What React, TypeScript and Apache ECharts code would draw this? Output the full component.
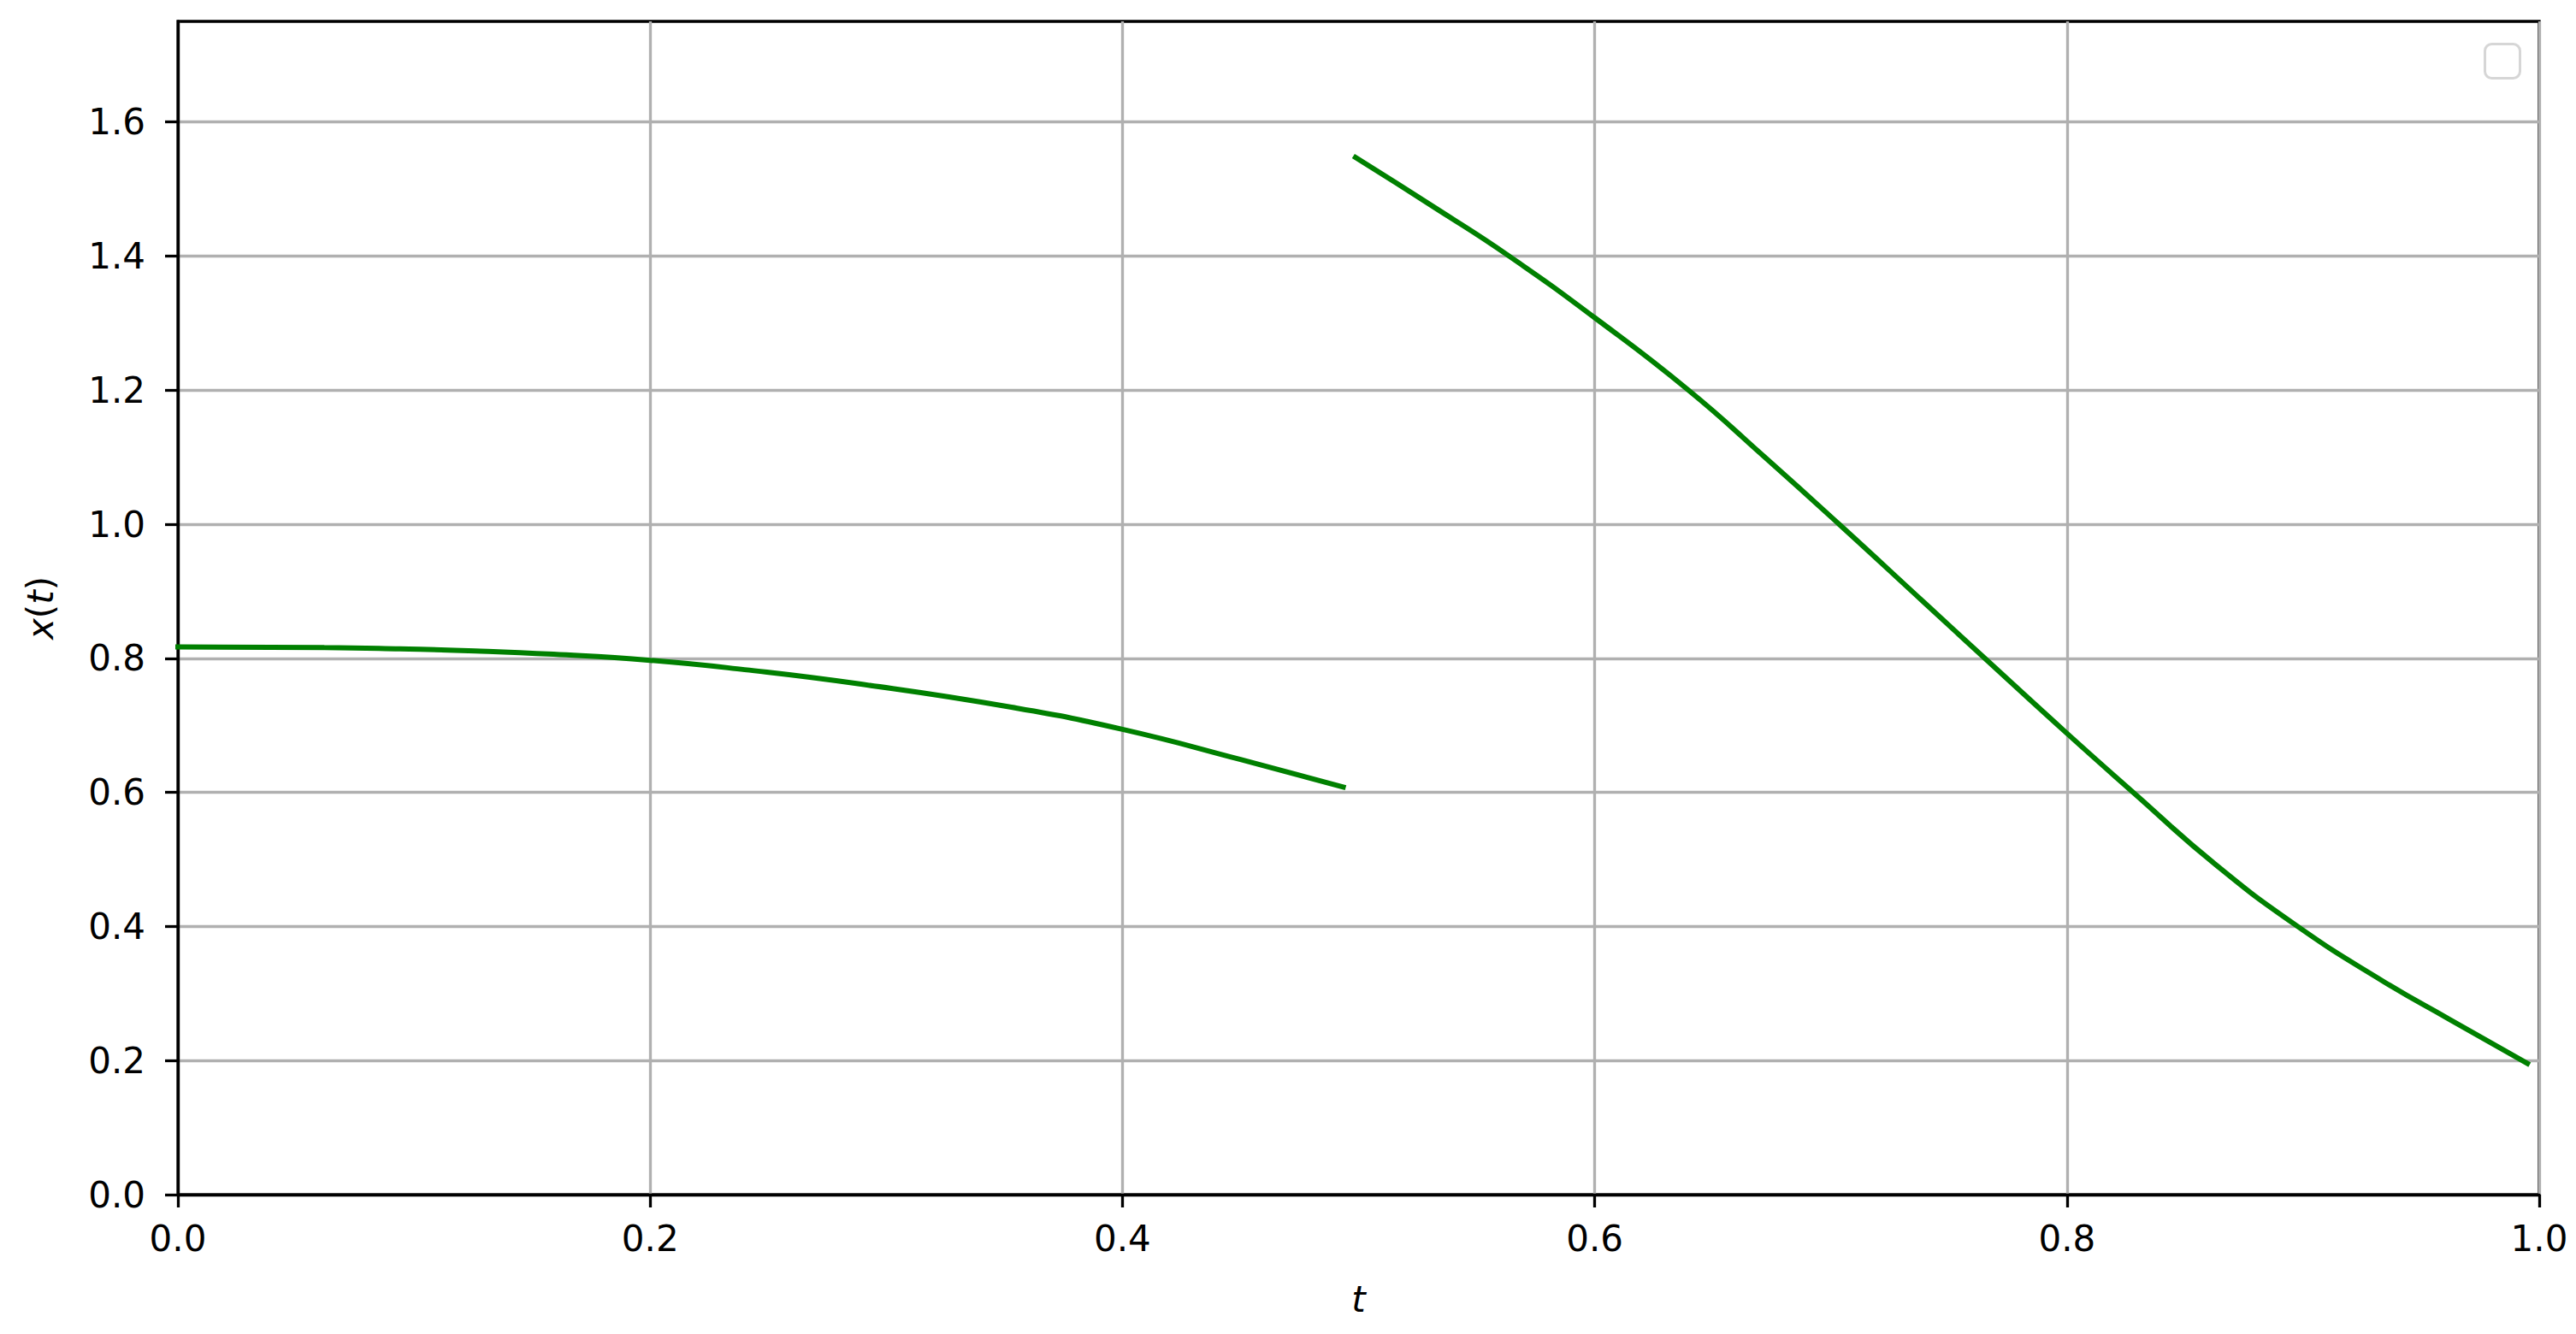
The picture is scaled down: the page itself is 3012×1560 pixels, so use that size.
import React, { useEffect, useRef } from "react";
import * as echarts from "echarts";

// Tick values
const xTicks = [0, 0.2, 0.4, 0.6, 0.8, 1.0];
const yTicks = [0, 0.2, 0.4, 0.6, 0.8, 1.0, 1.2, 1.4, 1.6];

// First segment of x(t)
const t1 = [0, 0.062, 0.094, 0.126, 0.159, 0.2, 0.24, 0.288, 0.353, 0.4, 0.45, 0.4935];
const x1 = [0.817, 0.816, 0.814, 0.811, 0.806, 0.797, 0.783, 0.762, 0.727, 0.694, 0.649, 0.608];

// Second segment of x(t)
const t2 = [0.4987, 0.5346, 0.5637, 0.6, 0.6397, 0.672, 0.7035, 0.7396, 0.7649, 0.8, 0.8287, 0.862, 0.8977, 0.934, 0.9617, 0.995];
const x2 = [1.547, 1.467, 1.4, 1.308, 1.2, 1.1, 1.0, 0.883, 0.801, 0.688, 0.598, 0.495, 0.4, 0.318, 0.262, 0.1955];

const FONT = "DejaVu Sans";

export default function App() {
  const ref = useRef<HTMLDivElement>(null);

  useEffect(() => {
    if (!ref.current) return;
    const chart = echarts.init(ref.current, undefined, { renderer: "svg" });
    const seg1 = t1.map((t, i) => [t, x1[i]]);
    const seg2 = t2.map((t, i) => [t, x2[i]]);
    const lineStyle = { color: "#008000", width: 6, cap: "square" as const };

    chart.setOption({
      animation: false,
      backgroundColor: "#ffffff",
      textStyle: { fontFamily: FONT },
      grid: {
        left: 208,
        top: 25,
        width: 2761,
        height: 1372,
        show: true,
        borderColor: "#000000",
        borderWidth: 3.3,
        backgroundColor: "transparent",
        containLabel: false,
        outerBoundsMode: "none",
      },
      xAxis: {
        type: "value",
        min: 0,
        max: 1,
        interval: 0.2,
        name: "t",
        nameLocation: "middle",
        nameGap: 101,
        nameTextStyle: { fontFamily: FONT, fontSize: 42, fontStyle: "italic", color: "#000" },
        axisLine: { show: true, onZero: false, lineStyle: { color: "#000", width: 3.3 } },
        axisTick: { show: true, length: 15, lineStyle: { color: "#000", width: 3.3 }, customValues: xTicks },
        axisLabel: {
          show: true,
          margin: 30,
          fontFamily: FONT,
          fontSize: 42,
          color: "#000",
          customValues: xTicks,
          formatter: (v: number) => v.toFixed(1),
        },
        splitLine: { show: true, lineStyle: { color: "#b0b0b0", width: 3.3 } },
      },
      yAxis: {
        type: "value",
        min: 0,
        max: 1.75,
        interval: 0.2,
        name: "{i|x}{n|(}{i|t}{n|)}",
        nameLocation: "middle",
        nameGap: 140,
        nameRotate: 90,
        nameTextStyle: {
          fontFamily: FONT,
          fontSize: 42,
          color: "#000",
          rich: {
            i: { fontFamily: FONT, fontSize: 42, fontStyle: "italic", color: "#000" },
            n: { fontFamily: FONT, fontSize: 42, color: "#000" },
          },
        },
        axisLine: { show: true, onZero: false, lineStyle: { color: "#000", width: 3.3 } },
        axisTick: { show: true, length: 15, lineStyle: { color: "#000", width: 3.3 }, customValues: yTicks },
        axisLabel: {
          show: true,
          margin: 38,
          fontFamily: FONT,
          fontSize: 42,
          color: "#000",
          customValues: yTicks,
          formatter: (v: number) => v.toFixed(1),
        },
        splitLine: { show: true, lineStyle: { color: "#b0b0b0", width: 3.3 } },
      },
      graphic: [
        {
          type: "rect",
          left: 2904,
          top: 50,
          shape: { width: 41, height: 40, r: 8 },
          style: { fill: "#ffffff", stroke: "#d6d6d6", lineWidth: 3 },
          z: 100,
        },
      ],
      series: [
        {
          type: "line",
          data: seg1,
          showSymbol: false,
          smooth: 0.5,
          lineStyle,
          z: 5,
        },
        {
          type: "line",
          data: seg2,
          showSymbol: false,
          smooth: 0.5,
          lineStyle,
          z: 5,
        },
      ],
    });

    return () => chart.dispose();
  }, []);

  return (
    <div
      ref={ref}
      style={{ position: "fixed", left: 0, top: 0, width: 3012, height: 1560, background: "#fff" }}
    />
  );
}
